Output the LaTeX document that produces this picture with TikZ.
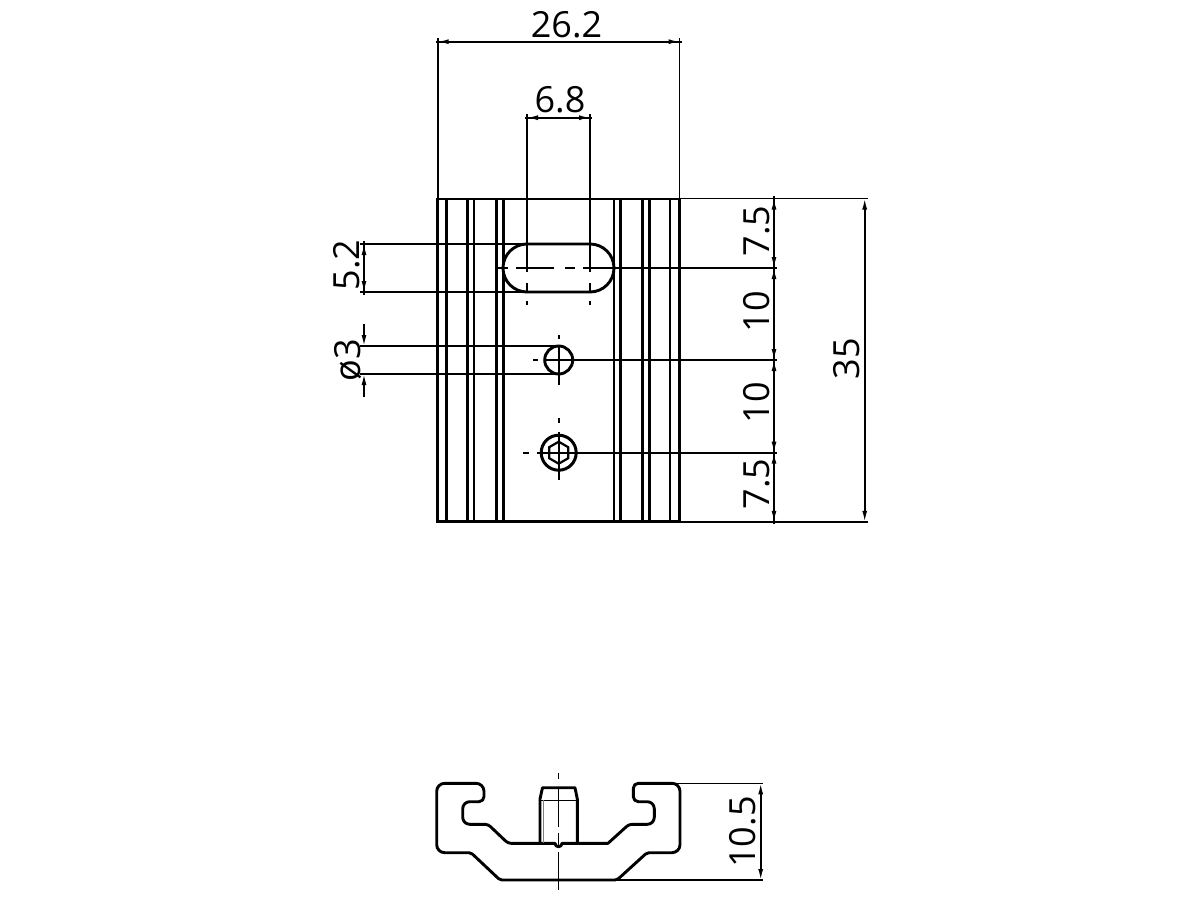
\documentclass[tikz,border=0pt]{standalone}
\usepackage{fontspec}
\setmainfont{Open Sans}
\usetikzlibrary{arrows.meta}
\tikzset{
  x=1pt,y=-1pt,
  body/.style={line width=2.9pt,black,line cap=butt},
  thin line/.style={line width=1.6pt,black},
  dim/.style={line width=1.6pt,black,{Latex[length=11pt,width=5pt]}-{Latex[length=11pt,width=5pt]}},
  arrow only/.style={line width=1.6pt,black,-{Latex[length=11pt,width=5pt]}},
  center seg/.style={line width=1.6pt,black},
  label/.style={inner sep=0pt,font=\fontsize{36}{36}\selectfont},
  vlabel/.style={label,rotate=90},
}
\begin{document}
\begin{tikzpicture}
\useasboundingbox (0,0) rectangle (1200,900);
% top view body
\draw[body] (437.7,199) rectangle (679.5,521.8);
\foreach \xx in {446.7,467.7,474,496.7,503.3,614,620.7,642.7,649.3,670}
  \draw[body] (\xx,199) -- (\xx,521.8);
% slot
\draw[body,fill=white] (527,244) -- (590,244) arc[start angle=-90,end angle=90,radius=24] -- (527,292) arc[start angle=90,end angle=270,radius=24] -- cycle;
% small hole
\draw[body] (558.7,360) circle[radius=14];
% screw
\draw[line width=3pt] (558.7,452.7) circle[radius=17.5];
\draw[line width=2.2pt] (558.7,452.7) +(90:11) -- +(30:11) -- +(-30:11) -- +(-90:11) -- +(-150:11) -- +(150:11) -- cycle;
% extension lines top
\draw[thin line] (437.7,38) -- (437.7,199);
\draw[thin line] (679.5,38) -- (679.5,199);
\draw[thin line] (527,114) -- (527,272);
\draw[thin line] (590,114) -- (590,272);
\draw[thin line] (527,283) -- (527,291);
\draw[thin line] (590,283) -- (590,291);
\draw[thin line] (527,301) -- (527,304.5);
\draw[thin line] (590,301) -- (590,304.5);
% slot centre line and extensions
\draw[center seg] (497.3,268) -- (508,268);
\draw[center seg] (516,268) -- (554.3,268);
\draw[center seg] (565,268) -- (575,268);
\draw[center seg] (583,268) -- (777,268);
% left extensions
\draw[thin line] (360,244) -- (527,244);
\draw[thin line] (360,292) -- (527,292);
\draw[thin line] (360,346) -- (558.7,346);
\draw[thin line] (360,374) -- (558.7,374);
% hole centre lines
\draw[center seg] (558.7,335) -- (558.7,339);
\draw[center seg] (558.7,346) -- (558.7,385);
\draw[center seg] (533,360) -- (537.7,360);
\draw[center seg] (545.7,360) -- (777,360);
% screw centre lines
\draw[center seg] (558.7,418) -- (558.7,422.7);
\draw[center seg] (558.7,431.7) -- (558.7,480);
\draw[center seg] (523,452.7) -- (529,452.7);
\draw[center seg] (536.7,452.7) -- (777,452.7);
% right extensions
\draw[thin line] (679.5,198.5) -- (868,198.5);
\draw[thin line] (679.5,521.8) -- (868,521.8);
% dimension lines
\draw[dim] (437.7,41.7) -- (679.5,41.7);
\draw[thin line] (435.5,41.7) -- (682,41.7);
\draw[dim] (527,117.7) -- (590,117.7);
\draw[thin line] (525,117.7) -- (592,117.7);
\draw[dim] (364,244) -- (364,292);
\draw[thin line] (364,241) -- (364,295);
\draw[arrow only] (364,324) -- (364,346);
\draw[arrow only] (364,396.7) -- (364,374);
\draw[dim] (774,198.5) -- (774,268);
\draw[dim] (774,268) -- (774,360);
\draw[dim] (774,360) -- (774,452.7);
\draw[dim] (774,452.7) -- (774,521.8);
\draw[thin line] (774,196) -- (774,524);
\draw[dim] (864.7,198.5) -- (864.7,521.8);
% labels
\node[label] (w) at (566.5,25) {26.2};
\node[label] (s) at (560,100) {6.8};
\node[vlabel] (h) at (347,265) {5.2};
\node[vlabel] (d) at (348,360) {ø3};
\node[vlabel] (r1) at (757,231) {7.5};
\node[vlabel] (r2) at (757,312) {10};
\node[vlabel] (r3) at (757,403) {10};
\node[vlabel] (r4) at (757,484) {7.5};
\node[vlabel] (t) at (847,359) {35};
\node[vlabel] (p) at (743,832) {10.5};
% profile view
\draw[body,line join=round]
  [rounded corners=8pt] (436.7,815) -- (436.7,783.3) -- (484,783.3)
  [rounded corners=5pt] -- (484,801.7)
  [rounded corners=7pt] -- (462.7,801.7) -- (462.7,824.3)
  [rounded corners=3pt] -- (488,824.3) -- (508,843.3)
  [sharp corners] -- (555,843.3)
  arc[start angle=180,end angle=0,radius=3.5]
  -- (608,843.3)
  [rounded corners=3pt] -- (629,824.3)
  [rounded corners=7pt] -- (654.3,824.3) -- (654.3,801.7)
  [rounded corners=5pt] -- (633.3,801.7) -- (633.3,783.3)
  [rounded corners=8pt] -- (680,783.3) -- (680,852.7)
  [rounded corners=2pt] -- (647,852.7) -- (617,880) -- (500,880) -- (471,852.7)
  [rounded corners=8pt] -- (436.7,852.7) -- (436.7,815);
% bolt
\draw[body,line join=round] (540,843.3) -- (540,799) -- (542.5,787.7) -- (575,787.7) -- (577.3,799) -- (577.3,843.3);
\draw[line width=1pt] (540,800) -- (577.3,800);
\draw[line width=1pt,gray] (543,800) -- (543,843);
% profile centre line
\draw[center seg] (558.5,773) -- (558.5,779);
\draw[center seg] (558.5,788) -- (558.5,827);
\draw[center seg] (558.5,833) -- (558.5,845);
\draw[center seg] (558.5,852) -- (558.5,890);
% 10.5 dimension
\draw[thin line] (672,783.3) -- (763,783.3);
\draw[thin line] (617,880) -- (763,880);
\draw[dim] (760.7,783.3) -- (760.7,880);
\end{tikzpicture}
\end{document}
